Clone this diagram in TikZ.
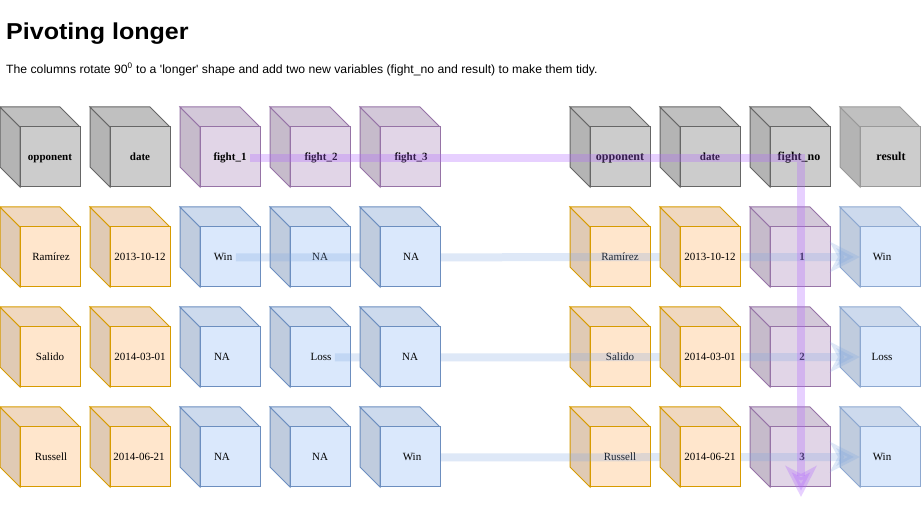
\documentclass[tikz,border=0pt]{standalone}
\usepackage{fontspec}
\setmainfont{Liberation Serif}
\newfontfamily\sansfont{Liberation Sans}
\usetikzlibrary{arrows.meta}
\definecolor{grayF}{HTML}{CCCCCC}
\definecolor{grayS}{HTML}{666666}
\definecolor{grayL}{HTML}{999999}
\definecolor{orangeF}{HTML}{FFE6CC}
\definecolor{orangeS}{HTML}{D79B00}
\definecolor{purpleF}{HTML}{E1D5E7}
\definecolor{purpleS}{HTML}{9673A6}
\definecolor{blueF}{HTML}{DAE8FC}
\definecolor{blueS}{HTML}{6C8EBF}
\definecolor{blueL}{HTML}{8DA8D0}
\definecolor{bandBlue}{HTML}{7EA6E0}
\definecolor{bandPurple}{HTML}{B266FF}
% #1 name, #2 x, #3 y, #4 fill, #5 stroke, #6 font, #7 dx, #8 text
\newcommand\mkcube[8]{%
  \filldraw[cubeline, fill=#4!88!black, draw=#5] (#2,#3) -- ++(20,20) -- ++(0,60) -- ++(-20,-20) -- cycle;
  \filldraw[cubeline, fill=#4!94!black, draw=#5] (#2,#3) -- ++(60,0) -- ++(20,20) -- ++(-60,0) -- cycle;
  \node[cubeface, fill=#4, draw=#5] (#1) at (#2+50,#3+50) {};
  \node[font=#6, anchor=base] (#1-t) at (#2+50+#7,#3+54) {#8};
}
\tikzset{
  cubeline/.style={line width=1pt, line join=miter},
  cubeface/.style={rectangle, minimum width=60pt, minimum height=60pt, inner sep=0pt, outer sep=0pt, line width=1pt},
  blueband/.style={draw=bandBlue, line width=8pt, opacity=0.25,
    -{Stealth[length=30pt, width=30pt, inset=8pt]}},
  purpleband/.style={draw=bandPurple, line width=8pt, opacity=0.3,
    -{Stealth[length=31pt, width=31pt, inset=8pt]}},
}
\newcommand\hd{\fontsize{11}{13}\selectfont\bfseries}
\newcommand\hdb{\fontsize{12}{14}\selectfont\bfseries}
\newcommand\dt{\fontsize{11}{13}\selectfont}
\begin{document}
\begin{tikzpicture}[x=1pt, y=-1pt]
\useasboundingbox[fill=white] (0,0) rectangle (922,510);
\node[anchor=base west, inner sep=0pt] (title) at (6,39.3)
  {\scalebox{1.09}[1]{\sansfont\bfseries\fontsize{23}{27}\selectfont Pivoting longer}};
\node[anchor=base west, inner sep=0pt] (sub) at (6,73.3)
  {\scalebox{1.018}[1]{\sansfont\fontsize{12}{14}\selectfont The columns rotate 90\textsuperscript{0} to a \textquotesingle longer\textquotesingle{} shape and add two new variables (fight\_no and result) to make them tidy.}};
% header row left
\mkcube{l10}{0}{107}{grayF}{grayS}{\hd}{0}{opponent}
\mkcube{l20}{90}{107}{grayF}{grayS}{\hd}{0}{date}
\mkcube{l30}{180}{107}{purpleF}{purpleS}{\hd}{0}{fight\_1}
\mkcube{l40}{270}{107}{purpleF}{purpleS}{\hd}{1}{fight\_2}
\mkcube{l50}{360}{107}{purpleF}{purpleS}{\hd}{1}{fight\_3}
% header row right
\mkcube{r10}{570}{107}{grayF}{grayS}{\hdb}{0}{opponent}
\mkcube{r20}{660}{107}{grayF}{grayS}{\hd}{0}{date}
\mkcube{r30}{750}{107}{grayF}{grayS}{\hdb}{-1}{fight\_no}
\mkcube{r40}{840}{107}{grayF}{grayL}{\hdb}{1}{result}
% data rows (under the bands)
\mkcube{l11}{0}{207}{orangeF}{orangeS}{\dt}{1}{Ramírez}
\mkcube{l21}{90}{207}{orangeF}{orangeS}{\dt}{0}{2013-10-12}
\mkcube{l31}{180}{207}{blueF}{blueS}{\dt}{-7}{Win}
\mkcube{l41}{270}{207}{blueF}{blueS}{\dt}{0}{NA}
\mkcube{l12}{0}{307}{orangeF}{orangeS}{\dt}{0}{Salido}
\mkcube{l22}{90}{307}{orangeF}{orangeS}{\dt}{0}{2014-03-01}
\mkcube{l32}{180}{307}{blueF}{blueS}{\dt}{-8}{NA}
\mkcube{l42}{270}{307}{blueF}{blueS}{\dt}{1}{Loss}
\mkcube{l13}{0}{407}{orangeF}{orangeS}{\dt}{1}{Russell}
\mkcube{l23}{90}{407}{orangeF}{orangeS}{\dt}{-1}{2014-06-21}
\mkcube{l33}{180}{407}{blueF}{blueS}{\dt}{-8}{NA}
\mkcube{l43}{270}{407}{blueF}{blueS}{\dt}{0}{NA}
\mkcube{r11}{570}{207}{orangeF}{orangeS}{\dt}{0}{Ramírez}
\mkcube{r31}{750}{207}{purpleF}{purpleS}{\hd}{2}{1}
\mkcube{r41}{840}{207}{blueF}{blueL}{\dt}{-8}{Win}
\mkcube{r12}{570}{307}{orangeF}{orangeS}{\dt}{0}{Salido}
\mkcube{r32}{750}{307}{purpleF}{purpleS}{\hd}{2}{2}
\mkcube{r42}{840}{307}{blueF}{blueL}{\dt}{-8}{Loss}
\mkcube{r13}{570}{407}{orangeF}{orangeS}{\dt}{0}{Russell}
\mkcube{r33}{750}{407}{purpleF}{purpleS}{\hd}{2}{3}
\mkcube{r43}{840}{407}{blueF}{blueL}{\dt}{-8}{Win}
% blue bands
\coordinate (w3start) at (424,457.5);
\draw[blueband] (l31-t.east) -- (r41.west);
\draw[blueband] (l42-t.east) -- (r42.west);
\draw[blueband] (w3start) -- (r43.west);
% cubes on top of the bands
\mkcube{l51}{360}{207}{blueF}{blueS}{\dt}{1}{NA}
\mkcube{l52}{360}{307}{blueF}{blueS}{\dt}{0}{NA}
\mkcube{l53}{360}{407}{blueF}{blueS}{\dt}{2}{Win}
\mkcube{r21}{660}{207}{orangeF}{orangeS}{\dt}{0}{2013-10-12}
\mkcube{r22}{660}{307}{orangeF}{orangeS}{\dt}{0}{2014-03-01}
\mkcube{r23}{660}{407}{orangeF}{orangeS}{\dt}{0}{2014-06-21}
% purple band
\coordinate (pend) at (801,497);
\draw[purpleband] (l30-t.east) -| (pend);
\end{tikzpicture}
\end{document}
